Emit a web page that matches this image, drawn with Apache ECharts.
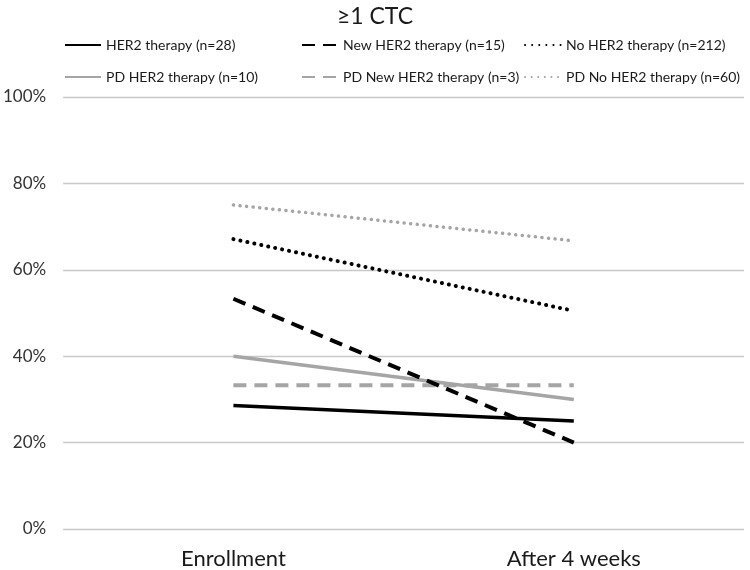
<!DOCTYPE html>
<html><head><meta charset="utf-8">
<script src="https://cdn.jsdelivr.net/npm/echarts@6/dist/echarts.min.js"></script>
<style>html,body{margin:0;padding:0;background:#fff}#c{width:750px;height:570px}</style>
</head><body><div id="c"></div>
<script>
const categories = ['Enrollment', 'After 4 weeks'];
const seriesNames = ['HER2 therapy (n=28)', 'New HER2 therapy (n=15)', 'No HER2 therapy (n=212)',
  'PD HER2 therapy (n=10)', 'PD New HER2 therapy (n=3)', 'PD No HER2 therapy (n=60)'];
const her2 = [28.6, 25.0];
const newHer2 = [53.3, 20.0];
const noHer2 = [67.1, 50.5];
const pdHer2 = [40.0, 30.0];
const pdNewHer2 = [33.3, 33.3];
const pdNoHer2 = [75.0, 66.7];
const yTicks = [0, 20, 40, 60, 80, 100];

const values = [her2, newHer2, noHer2, pdHer2, pdNewHer2, pdNoHer2];
const styles = [
  {color: '#000000', width: 3.5, type: 'solid'},
  {color: '#000000', width: 4, type: [13, 8]},
  {color: '#000000', width: 4, type: [0.1, 7], cap: 'round'},
  {color: '#a5a5a5', width: 3.5, type: 'solid'},
  {color: '#a5a5a5', width: 4, type: [13, 8]},
  {color: '#a5a5a5', width: 3.5, type: [0.1, 6.5], cap: 'round'}
];
const FONT = 'Lato, "Open Sans", sans-serif';
const chart = echarts.init(document.getElementById('c'), null, {renderer: 'canvas'});
function legendCol(names, left) {
  return {
    data: names, left: left, top: 38, orient: 'vertical', padding: 0,
    itemWidth: 36, itemHeight: 14, itemGap: 18, itemStyle: {opacity: 0},
    textStyle: {fontFamily: FONT, fontSize: 14, color: '#1a1a1a', lineHeight: 14}
  };
}
chart.setOption({
  animation: false,
  title: {text: '≥1 CTC', left: 'center', top: 0,
    textStyle: {fontFamily: FONT, fontSize: 23, fontWeight: 'normal', color: '#1a1a1a'}},
  legend: [
    legendCol([seriesNames[0], seriesNames[3]], 64),
    legendCol([seriesNames[1], seriesNames[4]], 301),
    legendCol([seriesNames[2], seriesNames[5]], 524)
  ],
  grid: {left: 56, right: 6, top: 97, bottom: 41, containLabel: false},
  xAxis: {type: 'category', data: categories, boundaryGap: true,
    axisLine: {show: false}, axisTick: {show: false},
    axisLabel: {fontFamily: FONT, fontSize: 22, color: '#1a1a1a', margin: 19}},
  yAxis: {type: 'value', min: yTicks[0], max: yTicks[yTicks.length - 1], interval: 20,
    axisLine: {show: false}, axisTick: {show: false},
    axisLabel: {fontFamily: FONT, fontSize: 17, color: '#333333', margin: 17,
      formatter: v => v + '%'},
    splitLine: {lineStyle: {color: '#c8c8c8', width: 1.3}}},
  series: values.map((v, i) => ({
    name: seriesNames[i], type: 'line', data: v, symbol: 'none',
    lineStyle: styles[i], itemStyle: {color: styles[i].color},
    z: 10 - i
  }))
});
</script></body></html>
